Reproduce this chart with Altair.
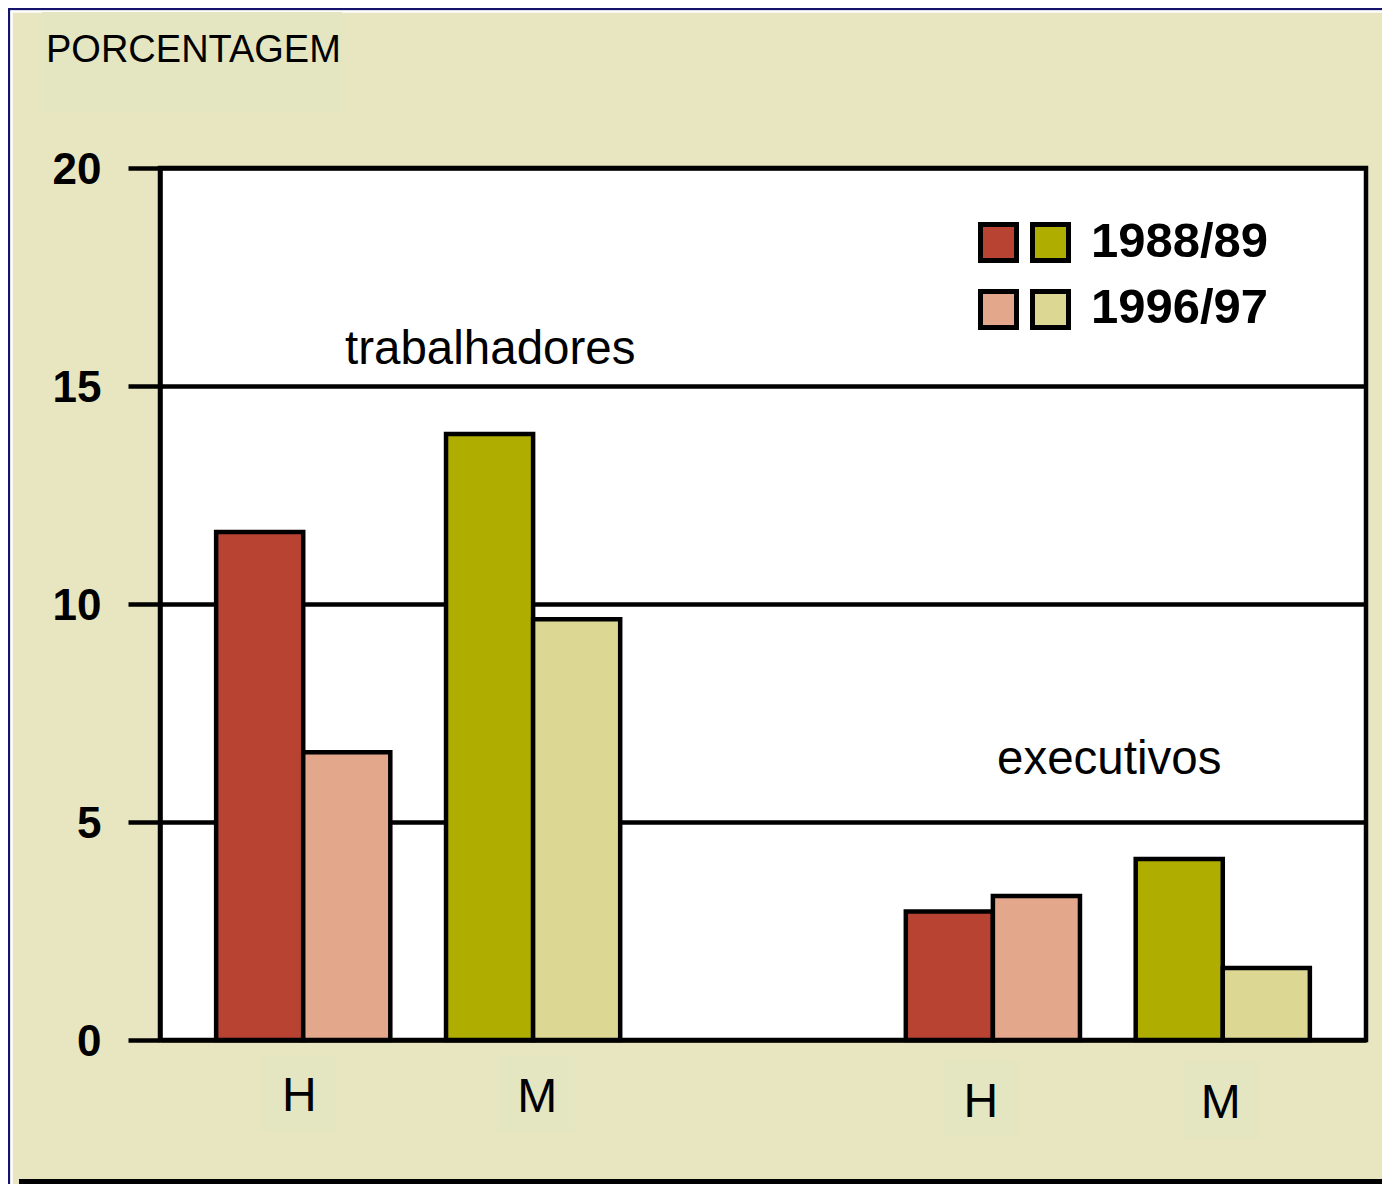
import altair as alt
import pandas as pd

# ---- data ----
grupos = ["trabalhadores", "trabalhadores", "executivos", "executivos"]
sexos = ["H", "M", "H", "M"]
periodos = ["1988/89", "1996/97"]
valores_1988 = [11.65, 13.9, 2.95, 4.15]
valores_1996 = [6.6, 9.65, 3.3, 1.65]
series = ["H 1988/89", "H 1996/97", "M 1988/89", "M 1996/97"]
cores = ["#B84332", "#E3A78B", "#AFAE00", "#DCD894"]
y_ticks = [0, 5, 10, 15, 20]
titulo_y = "PORCENTAGEM"
categorias = ["trabalhadores H", "trabalhadores M", " ", "executivos H", "executivos M"]

rows = []
for g, s, a, b in zip(grupos, sexos, valores_1988, valores_1996):
    rows.append(dict(cat=f"{g} {s}", sexo=s, periodo=periodos[0], valor=a, serie=f"{s} {periodos[0]}"))
    rows.append(dict(cat=f"{g} {s}", sexo=s, periodo=periodos[1], valor=b, serie=f"{s} {periodos[1]}"))
df = pd.DataFrame(rows)

FONT = "Liberation Sans"
BG = "#E8E6C0"

x_scale = alt.Scale(domain=categorias, paddingInner=0, paddingOuter=0.123)
color_scale = alt.Scale(domain=series, range=cores)

bars = alt.Chart(df).mark_bar(stroke="black", strokeWidth=4.5).encode(
    x=alt.X("cat:N", scale=x_scale, axis=None),
    xOffset=alt.XOffset("periodo:N", scale=alt.Scale(domain=periodos, paddingInner=0, paddingOuter=0.32)),
    y=alt.Y("valor:Q", scale=alt.Scale(domain=[0, 20], nice=False),
            axis=alt.Axis(values=y_ticks, title=None, tickSize=32, tickWidth=4.5, tickColor="black",
                          domainColor="black", domainWidth=4.5, grid=True, gridColor="black",
                          gridWidth=4.5, labelFont=FONT, labelFontWeight="bold", labelFontSize=44,
                          labelColor="black", labelPadding=27, labelOffset=2)),
    color=alt.Color("serie:N", scale=color_scale, legend=None),
)

# H/M labels (with the faint boxes behind them); small per-label nudges as in the reference
nudges = [(-4, -3), (4, -2), (-12, 3), (-2, 4)]
lab_layers = []
for g, s, (dx, dy) in zip(grupos, sexos, nudges):
    d = pd.DataFrame({"cat": [f"{g} {s}"], "sexo": [s]})
    lab_layers.append(alt.Chart(d).mark_square(size=75 * 76, color="#E3E6C1", opacity=1,
                                                xOffset=dx, yOffset=dy).encode(
        x=alt.X("cat:N", scale=x_scale, axis=None), y=alt.value(928)))
    lab_layers.append(alt.Chart(d).mark_text(font=FONT, fontSize=48, baseline="alphabetic",
                                             align="center", color="black", dx=dx, dy=dy).encode(
        x=alt.X("cat:N", scale=x_scale, axis=None), y=alt.value(946), text="sexo:N"))

# group titles
txt_trab = alt.Chart(pd.DataFrame({"t": [grupos[0]]})).mark_text(
    font=FONT, fontSize=47.5, align="left", baseline="alphabetic", color="black").encode(
    x=alt.value(185), y=alt.value(196), text="t:N")
txt_exec = alt.Chart(pd.DataFrame({"t": [grupos[2]]})).mark_text(
    font=FONT, fontSize=47.5, align="left", baseline="alphabetic", color="black").encode(
    x=alt.value(837), y=alt.value(606), text="t:N")

# y title with its faint box
title_box = alt.Chart(pd.DataFrame({"a": [0]})).mark_rect(color="#E3E6C1").encode(
    x=alt.value(-118), x2=alt.value(182), y=alt.value(-156), y2=alt.value(-56))
title_txt = alt.Chart(pd.DataFrame({"t": [titulo_y]})).mark_text(
    font=FONT, fontSize=38, align="left", baseline="alphabetic", color="black").encode(
    x=alt.value(-114), y=alt.value(-106), text="t:N")

# custom legend
legend_layers = []
sw_pos = {"H 1988/89": (820.5, 56.5), "M 1988/89": (872.5, 56.5),
          "H 1996/97": (820.5, 123.5), "M 1996/97": (872.5, 123.5)}
for s in series:
    x0, y0 = sw_pos[s]
    legend_layers.append(
        alt.Chart(pd.DataFrame({"serie": [s]})).mark_rect(stroke="black", strokeWidth=5).encode(
            x=alt.value(x0), x2=alt.value(x0 + 36), y=alt.value(y0), y2=alt.value(y0 + 36),
            color=alt.Color("serie:N", scale=color_scale, legend=None)))
for p, yb in zip(periodos, [89, 155]):
    legend_layers.append(
        alt.Chart(pd.DataFrame({"t": [p]})).mark_text(
            font=FONT, fontSize=49, fontWeight="bold", align="left", baseline="alphabetic",
            color="black").encode(x=alt.value(931), y=alt.value(yb), text="t:N"))

# frame lines
one = pd.DataFrame({"a": [0]})
frame = [
    alt.Chart(one).mark_rule(color="#14146E", strokeWidth=2.5).encode(
        x=alt.value(-160), x2=alt.value(1230), y=alt.value(-158.8)),
    alt.Chart(one).mark_rule(color="white", strokeWidth=2.5).encode(
        x=alt.value(-157.5), x2=alt.value(1230), y=alt.value(-156.5)),
    alt.Chart(one).mark_rule(color="#14146E", strokeWidth=2.5).encode(
        x=alt.value(-150.8), y=alt.value(-160), y2=alt.value(1016)),
    alt.Chart(one).mark_rule(color="white", strokeWidth=2.5).encode(
        x=alt.value(-148.5), y=alt.value(-157.5), y2=alt.value(1016)),
    alt.Chart(one).mark_rule(color="black", strokeWidth=5).encode(
        x=alt.value(-141), x2=alt.value(1230), y=alt.value(1013.5)),
]

chart = alt.layer(
    *frame, title_box, title_txt, bars, *lab_layers, txt_trab, txt_exec, *legend_layers
).properties(
    width=1206, height=872,
    autosize=alt.AutoSizeParams(type="none"),
    padding={"left": 152, "top": 160, "right": 16, "bottom": 144},
).configure(background=BG).configure_view(fill="white", stroke="black", strokeWidth=4.5)

chart.save("out.html", embed_options={"renderer": "svg", "actions": False})
